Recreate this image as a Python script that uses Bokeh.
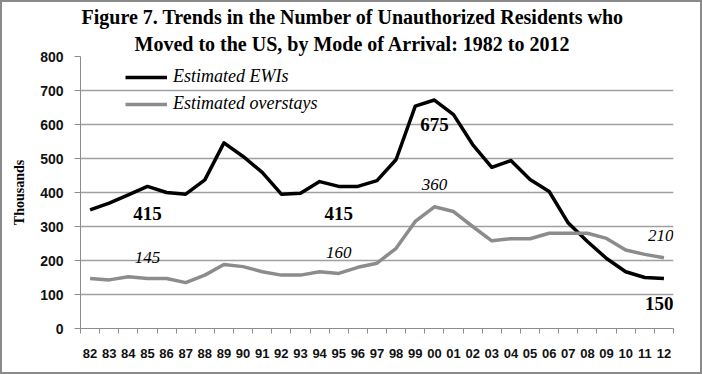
from bokeh.plotting import figure
from bokeh.models import (Range1d, FixedTicker, Legend, LegendItem, Title, Label, ColumnDataSource)
from bokeh.embed import file_html
from bokeh.resources import INLINE

years = ["82", "83", "84", "85", "86", "87", "88", "89", "90", "91", "92", "93", "94", "95", "96",
         "97", "98", "99", "00", "01", "02", "03", "04", "05", "06", "07", "08", "09", "10", "11", "12"]
ewis = [349, 369, 393, 418, 400, 395, 437, 546, 506, 459, 395, 398, 432, 418, 418,
        435, 497, 654, 672, 629, 541, 474, 494, 438, 403, 310, 256, 206, 167, 150, 147]
overstays = [147, 143, 152, 147, 147, 135, 157, 188, 182, 167, 157, 157, 167, 162, 180,
             192, 236, 315, 358, 344, 300, 258, 264, 264, 280, 280, 280, 265, 231, 218, 208]
yticks = [0, 100, 200, 300, 400, 500, 600, 700, 800]

# annotation texts (callouts) and the series index / value where they sit
bold_notes = ["415", "415", "675", "150"]
bold_idx = [3, 13, 18, 30.5]
bold_val = [339, 339, 599, 74]
bold_align = ["center", "center", "center", "right"]
ital_notes = ["145", "160", "360", "210"]
ital_idx = [3, 13, 18, 30.5]
ital_val = [209, 224, 425, 274]
ital_align = ["center", "center", "center", "right"]

xs = list(range(len(years)))

p = figure(width=702, height=374, output_backend="svg", toolbar_location=None,
           x_range=Range1d(-0.5, len(years) - 0.5), y_range=Range1d(0, 800),
           min_border_left=78, min_border_right=31, min_border_top=54, min_border_bottom=48)
p.outline_line_color = None
p.background_fill_color = "white"
p.border_fill_color = "white"
p.styles = {"border": "2px solid #8a8a8a", "box-sizing": "border-box"}

p.title.text = "Figure 7. Trends  in the Number  of Unauthorized  Residents who"
p.title.text_font = "Liberation Serif"
p.title.text_font_size = "20px"
p.title.text_font_style = "bold"
p.title.text_color = "black"
p.title.align = "left"
p.title.offset = 1
p.title.standoff = 1
t2 = Title(text="Moved  to the US, by Mode  of Arrival:  1982 to 2012",
           text_font="Liberation Serif", text_font_size="20px", text_font_style="bold",
           text_color="black", align="left", offset=54, standoff=4)
p.add_layout(t2, "above")

# axes
p.xaxis.ticker = FixedTicker(ticks=xs, minor_ticks=[i - 0.5 for i in range(len(years) + 1)])
p.xaxis.major_label_overrides = {i: y for i, y in enumerate(years)}
p.xaxis.major_tick_out = 0
p.xaxis.major_tick_in = 0
p.xaxis.minor_tick_out = 5
p.xaxis.minor_tick_in = 0
p.xaxis.minor_tick_line_color = "#8c8c8c"
p.xaxis.axis_line_color = "#8c8c8c"
p.xaxis.major_label_standoff = 15
p.xaxis.major_label_text_font = "Liberation Sans"
p.xaxis.major_label_text_font_style = "bold"
p.xaxis.major_label_text_font_size = "13px"
p.xaxis.major_label_text_color = "#111111"

p.yaxis.ticker = FixedTicker(ticks=yticks)
p.yaxis.major_tick_out = 6
p.yaxis.major_tick_in = 0
p.yaxis.minor_tick_line_color = None
p.yaxis.major_tick_line_color = "#8c8c8c"
p.yaxis.axis_line_color = "#8c8c8c"
p.yaxis.major_label_standoff = 11
p.yaxis.major_label_text_font = "Liberation Sans"
p.yaxis.major_label_text_font_style = "bold"
p.yaxis.major_label_text_font_size = "14px"
p.yaxis.major_label_text_color = "#111111"
p.yaxis.axis_label = "Thousands"
p.yaxis.axis_label_text_font = "Liberation Serif"
p.yaxis.axis_label_text_font_style = "bold"
p.yaxis.axis_label_text_font_size = "14px"
p.yaxis.axis_label_text_color = "black"
p.yaxis.axis_label_standoff = 10

p.xgrid.grid_line_color = None
p.ygrid.ticker = FixedTicker(ticks=yticks)
p.ygrid.grid_line_color = "#a0a0a0"
p.ygrid.grid_line_width = 1.5

src = ColumnDataSource(dict(x=xs, e=ewis, o=overstays))
r_e = p.line("x", "e", source=src, line_color="black", line_width=3.5, line_join="round")
r_o = p.line("x", "o", source=src, line_color="#8c8c8c", line_width=3.5, line_join="round")

legend = Legend(items=[LegendItem(label="Estimated EWIs", renderers=[r_e]),
                       LegendItem(label="Estimated overstays", renderers=[r_o])],
                location=(45, 214), glyph_width=42, glyph_height=20, label_height=20,
                label_standoff=6, spacing=6, padding=0, margin=0,
                label_text_font="Liberation Serif", label_text_font_style="italic",
                label_text_font_size="18px", label_text_color="black",
                background_fill_alpha=0, border_line_color=None)
p.add_layout(legend)

for t, i, v, a in zip(bold_notes, bold_idx, bold_val, bold_align):
    p.add_layout(Label(x=i, y=v, text=t, text_font="Liberation Serif", text_font_style="bold",
                       text_font_size="19px", text_color="black", text_align=a,
                       text_baseline="middle"))
for t, i, v, a in zip(ital_notes, ital_idx, ital_val, ital_align):
    p.add_layout(Label(x=i, y=v, text=t, text_font="Liberation Serif", text_font_style="italic",
                       text_font_size="17px", text_color="black", text_align=a,
                       text_baseline="middle"))

open("out.html", "w").write(file_html(p, INLINE))
